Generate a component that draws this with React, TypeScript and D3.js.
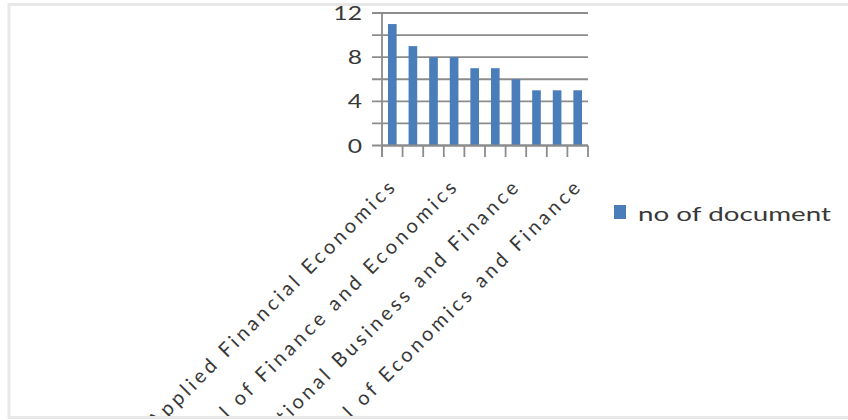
import React from "react";
import * as d3 from "d3";

const categories: string[] = [
  "Applied Financial Economics",
  "Journal 2",
  "Journal 3",
  "International Journal of Finance and Economics",
  "Journal 5",
  "Journal 6",
  "Research in International Business and Finance",
  "Journal 8",
  "Journal 9",
  "International Journal of Economics and Finance",
];
const labelledIdx: number[] = [0, 3, 6, 9];
const values: number[] = [11, 9, 8, 8, 7, 7, 6, 5, 5, 5];
const gridTicks: number[] = [0, 2, 4, 6, 8, 10, 12];
const labelTicks: number[] = [0, 4, 8, 12];
const seriesName = "no of document";

const W = 848;
const H = 420;
const BLUE = "#4a7ebb";
const TEXT = "#383838";
const FONT = "Lato, 'Open Sans', sans-serif";

export default function App() {
  const x = d3.scaleBand<number>().domain(d3.range(categories.length)).range([382, 588]).paddingInner(0.58).paddingOuter(0.29);
  const xb = d3.scaleBand<number>().domain(d3.range(categories.length)).range([382, 588]);
  const y = d3.scaleLinear().domain([0, 12]).range([145.5, 13]);
  const y0 = y(0);

  return (
    <svg width={W} height={H} style={{ position: "absolute", left: 0, top: 0, display: "block" }}>
      <defs>
        <clipPath id="clipChart">
          <rect x={10} y={6} width={W} height={410} />
        </clipPath>
      </defs>
      <rect x={0} y={0} width={W} height={H} fill="#ffffff" />
      <rect x={9} y={4.5} width={W + 10} height={413} fill="#ffffff" stroke="#e8e8e8" strokeWidth={3} />
      <g clipPath="url(#clipChart)">
        {gridTicks.map((t) => (
          <line key={"g" + t} x1={372} x2={588} y1={y(t)} y2={y(t)} stroke="#8c8c8c" strokeWidth={1.8} />
        ))}
        {values.map((v, i) => (
          <rect key={"b" + i} x={x(i)} y={y(v)} width={x.bandwidth()} height={y0 - y(v)} fill={BLUE} />
        ))}
        <line x1={382} x2={382} y1={y(12)} y2={157} stroke="#8c8c8c" strokeWidth={1.8} />
        <line x1={382} x2={588} y1={y0} y2={y0} stroke="#8c8c8c" strokeWidth={1.8} />
        {d3.range(categories.length + 1).map((i) => {
          const xx = i < categories.length ? (xb(i) as number) : 588;
          return <line key={"t" + i} x1={xx} x2={xx} y1={y0} y2={157} stroke="#8c8c8c" strokeWidth={1.8} />;
        })}
        {labelTicks.map((t) => (
          <text
            key={"yl" + t}
            transform={`translate(362,${y(t) + 7}) scale(1.3,1)`}
            textAnchor="end"
            fontFamily={FONT}
            fontSize={19}
            fill={TEXT}
          >
            {t}
          </text>
        ))}
        {labelledIdx.map((i) => {
          const cx = (xb(i) as number) + xb.bandwidth() / 2;
          return (
            <text
              key={"xl" + i}
              transform={`translate(${cx + 6},${187}) rotate(-45)`}
              textAnchor="end"
              fontFamily={FONT}
              fontSize={20}
              letterSpacing={3.5}
              fill={TEXT}
            >
              {categories[i]}
            </text>
          );
        })}
        <rect x={614} y={205} width={12} height={14} fill={BLUE} />
        <text
          x={638}
          y={221}
          fontFamily={FONT}
          fontSize={20}
          fill={TEXT}
          textLength={193}
          lengthAdjust="spacingAndGlyphs"
        >
          {seriesName}
        </text>
      </g>
    </svg>
  );
}
